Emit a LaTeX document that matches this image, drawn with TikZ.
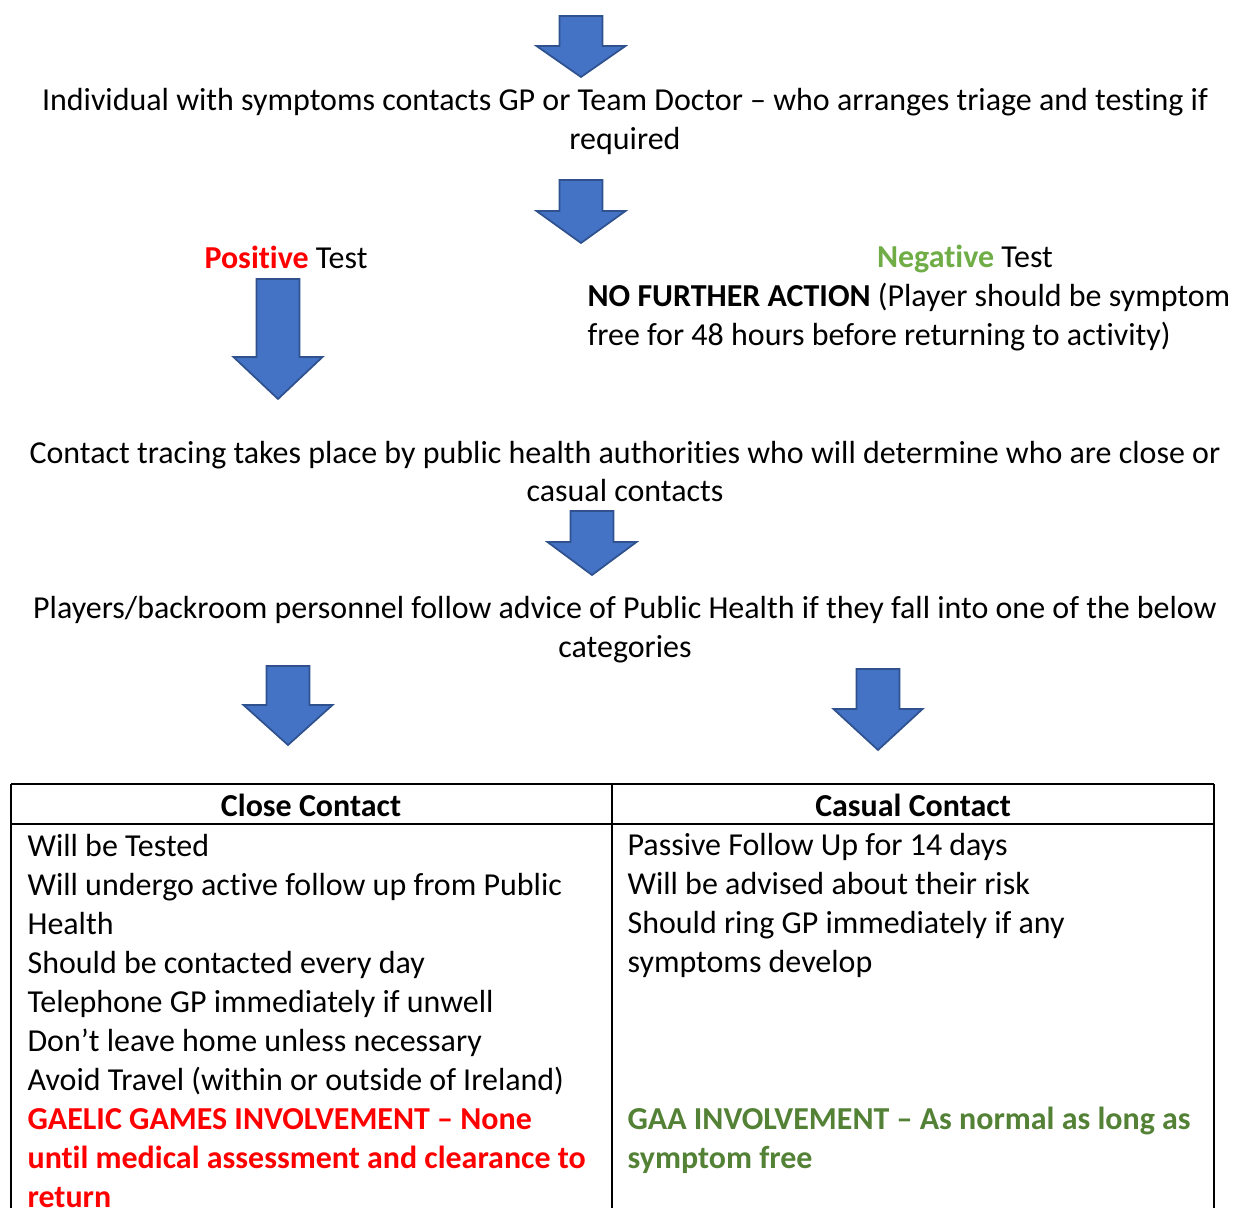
\documentclass[tikz,border=0pt]{standalone}
\usepackage{fontspec}
\setmainfont{Carlito}[RawFeature=-liga]
\usepackage{tikz}

\definecolor{arrowblue}{HTML}{4472C4}
\definecolor{arrowedge}{HTML}{2F528F}
\definecolor{posred}{HTML}{FF0000}
\definecolor{neggreen}{HTML}{70AD47}
\definecolor{gaagreen}{HTML}{538135}

\tikzset{
  blockarrow/.style={fill=arrowblue, draw=arrowedge, line width=0.6pt, line join=miter},
  pics/downarrow/.style 2 args={code={
    \draw[blockarrow] (-21.5,0) -- (21.5,0) -- (21.5,#2) -- (44.5,#2) -- (0,#1)
      -- (-44.5,#2) -- (-21.5,#2) -- cycle;
  }},
  txt/.style={font=\fontsize{11}{13.4}\selectfont, inner sep=0pt},
  rule/.style={line width=0.7pt}
}

\begin{document}
\begin{tikzpicture}[x=0.344pt, y=-0.344pt]
    \clip (0,0) rectangle (1237,1208);
    \fill[white] (0,0) rectangle (1237,1208);

    % block arrows
    \pic at (581,16) {downarrow={61}{30}};
    \pic at (581,180) {downarrow={63}{31}};
    \pic at (278,279) {downarrow={120}{78}};
    \pic at (592,511) {downarrow={64}{31}};
    \pic at (288,666) {downarrow={79}{39}};
    \pic at (878,669) {downarrow={81}{40}};

    % flow text
    \node[txt, align=center] (intro) at (625,121.5)
      {Individual with symptoms contacts GP or Team Doctor -- who arranges triage and testing if\\required};
    \node[txt] (pos) at (286,257) {\textcolor{posred}{\textbf{Positive}} Test};
    \node[txt] (neg) at (965,258.5) {\textcolor{neggreen}{\textbf{Negative}} Test};
    \node[txt, align=left, anchor=west] (nfa) at (587,317.5)
      {\textbf{NO FURTHER ACTION} (Player should be symptom\\free for 48 hours before returning to activity)};
    \node[txt, align=center] (trace) at (625,471.5)
      {Contact tracing takes place by public health authorities who will determine who are close or\\casual contacts};
    \node[txt, align=center] (advice) at (625,629.5)
      {Players/backroom personnel follow advice of Public Health if they fall into one of the below\\categories};

    % table
    \coordinate (TL) at (11,784);
    \coordinate (TR) at (1214,784);
    \coordinate (TM) at (612,784);
    \draw[rule] (TL) -- (TR);
    \draw[rule] (11,824) -- (1214,824);
    \draw[rule] (TL) -- (11,1220);
    \draw[rule] (TM) -- (612,1220);
    \draw[rule] (TR) -- (1214,1220);

    \node[txt] (closehd) at (311,805) {\textbf{Close Contact}};
    \node[txt] (casualhd) at (913,805) {\textbf{Casual Contact}};

    \node[txt, align=left, anchor=west] (closebody) at (27,1021)
      {Will be Tested\\
       Will undergo active follow up from Public\\
       Health\\
       Should be contacted every day\\
       Telephone GP immediately if unwell\\
       Don’t leave home unless necessary\\
       Avoid Travel (within or outside of Ireland)\\
       \color{posred}\bfseries GAELIC GAMES INVOLVEMENT -- None\\
       \color{posred}\bfseries until medical assessment and clearance to\\
       \color{posred}\bfseries return};
    \node[txt, align=left, anchor=west] (casualbody) at (627,905.5)
      {Passive Follow Up for 14 days\\
       Will be advised about their risk\\
       Should ring GP immediately if any\\
       symptoms develop};
    \node[txt, align=left, anchor=west, text=gaagreen, font=\fontsize{11}{13.4}\selectfont\bfseries] (gaa) at (627,1140.5)
      {GAA INVOLVEMENT -- As normal as long as\\symptom free};
\end{tikzpicture}
\end{document}
